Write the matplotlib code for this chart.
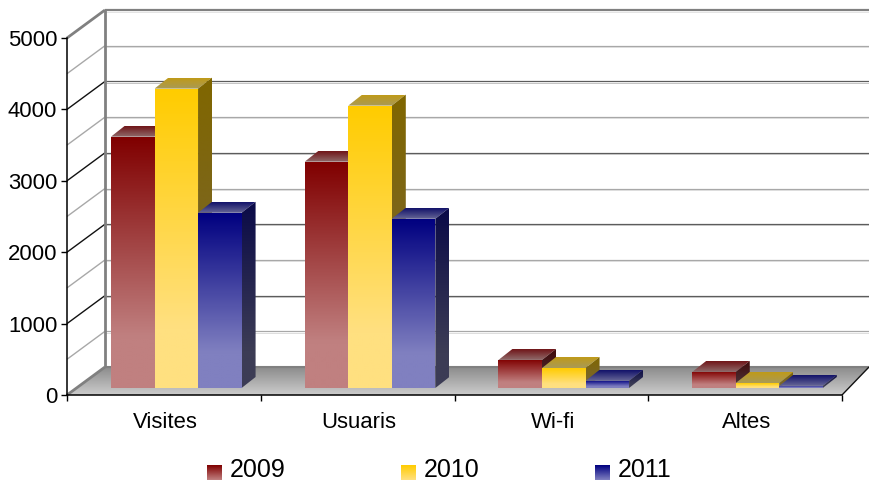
import numpy as np
import matplotlib
matplotlib.use('Agg')
import matplotlib.pyplot as plt
from matplotlib.patches import Polygon
from matplotlib.transforms import Affine2D, IdentityTransform

categories = ['Visites', 'Usuaris', 'Wi-fi', 'Altes']
years = ['2009', '2010', '2011']
values_2009 = [3520, 3170, 393, 225]
values_2010 = [4193, 3955, 280, 70]
values_2011 = [2454, 2370, 100, 30]
y_ticks = [0, 1000, 2000, 3000, 4000, 5000]
grid_steps = [500, 1000, 1500, 2000, 2500, 3000, 3500, 4000, 4500, 5000]

W, H = 869, 483
plt.rcParams['font.family'] = ['Liberation Sans', 'DejaVu Sans']

# front colours: top of bar -> bottom of bar, then top face, then side face
styles = [
    {'front': ('#800000', '#c08080'), 'top': ('#701518', '#8f6a6a'), 'side': ('#400808', '#4a3035')},
    {'front': ('#ffcc00', '#ffe080'), 'top': ('#c09a18', '#a89a58'), 'side': ('#806600', '#7a6630')},
    {'front': ('#000080', '#8080c0'), 'top': ('#12126a', '#666696'), 'side': ('#0a0a48', '#3c3c55')},
]

fig = plt.figure(figsize=(W / 100, H / 100), dpi=100)
ax = fig.add_axes([67 / W, (H - 395) / H, 775 / W, 357 / H])
ax.patch.set_visible(False)
ax.set_xlim(0, 4)
ax.set_ylim(0, 5000)
fig.canvas.draw()

wall = ax.transData + Affine2D().translate(38, 28)
front = ax.transData + Affine2D().translate(12.4, 7)
back = ax.transData + Affine2D().translate(26.4, 18)


def to_rgb(c):
    return np.array(matplotlib.colors.to_rgb(c))


def gradient(points, c_top, c_bottom, zorder, flat=0.0):
    # fill a display-space polygon with a vertical gradient
    points = np.array(points)
    x0, x1 = points[:, 0].min(), points[:, 0].max()
    y0, y1 = points[:, 1].min(), points[:, 1].max()
    t = np.linspace(0, 1, 64)
    t = np.clip((t - flat) / (1 - flat), 0, 1)[:, None, None]
    img = to_rgb(c_bottom) * (1 - t) + to_rgb(c_top) * t
    im = ax.imshow(img, extent=(x0, x1, y0, y1), origin='lower', aspect='auto',
                   transform=IdentityTransform(), zorder=zorder, interpolation='bilinear')
    im.set_clip_box(fig.bbox)
    im.set_clip_path(Polygon(points, transform=IdentityTransform()))


def line(p, q, color, lw, zorder=1):
    ax.plot([p[0], q[0]], [p[1], q[1]], color=color, lw=lw, transform=IdentityTransform(),
            clip_on=False, zorder=zorder, solid_capstyle='butt')


# floor
wall_end = wall.transform((4, 0))[0] - 11
floor = [wall.transform((0, 0)), (wall_end, wall.transform((0, 0))[1]),
         ax.transData.transform((4, 0)), ax.transData.transform((0, 0))]
gradient(floor, '#8c8c8c', '#cccccc', 1)

# walls and grid
for v in grid_steps:
    a = ax.transData.transform((0, v))
    b = wall.transform((0, v))
    c = np.array([wall_end, b[1]])
    major = v % 1000 == 0 and v != 5000
    if v == 5000:
        line(a, b, '#808080', 2.0)
        line(b, c, '#808080', 1.6)
        line(b - [0, 1.5], c - [0, 1.5], '#e4e4e4', 0.7)
    else:
        line(a, b, '#111111' if major else '#a8a8a8', 1.0)
        line(b, c, '#5c5c5c' if major else '#a8a8a8', 0.9)
        line(b - [0, 1.2], c - [0, 1.2], '#c4c4c4' if major else '#dddddd', 0.7)
b0 = wall.transform((0, 0))
line(b0, wall.transform((0, 5000)), '#808080', 2.0, 2)
line(ax.transData.transform((0, 0)), b0, '#808080', 2.0, 2)
line(b0, (wall_end, b0[1]), '#808080', 1.5, 2)
line(ax.transData.transform((4, 0)), (wall_end, b0[1]), '#111111', 1.0, 2)

# bars
width = 0.2247
for j, vals in enumerate([values_2009, values_2010, values_2011]):
    st = styles[j]
    x = np.arange(len(categories)) + 0.5 + (j - 1) * width
    bars = ax.bar(x, vals, width, color=st['front'][0], transform=front, zorder=3 + j, clip_on=False)
    for rect in bars:
        xl, xr, top = rect.get_x(), rect.get_x() + rect.get_width(), rect.get_height()
        fl, fr = front.transform((xl, 0)), front.transform((xr, 0))
        tl, tr = front.transform((xl, top)), front.transform((xr, top))
        bl_b, br_b = back.transform((xl, top)), back.transform((xr, top))
        low_b = back.transform((xr, 0))
        gradient([tl, tr, br_b, bl_b], st['top'][0], st['top'][1], 3.1 + j)
        gradient([fr, low_b, br_b, tr], st['side'][0], st['side'][1], 3.1 + j, flat=0.2)
        gradient([fl, fr, tr, tl], st['front'][0], st['front'][1], 3.2 + j, flat=0.2)

# axes
for s in ['top', 'right']:
    ax.spines[s].set_visible(False)
for s in ['left', 'bottom']:
    ax.spines[s].set_linewidth(1.1)
    ax.spines[s].set_zorder(8)
ax.set_yticks(y_ticks)
ax.set_yticklabels([str(v) for v in y_ticks], fontsize=15.9)
ax.tick_params(axis='y', length=4.5, width=1, pad=2.5)
ax.set_xticks(range(5))
ax.set_xticklabels([])
ax.tick_params(axis='x', which='major', length=4.5, width=1)
ax.set_xticks(np.arange(len(categories)) + 0.5, minor=True)
ax.set_xticklabels(categories, minor=True, fontsize=15.9)
ax.tick_params(axis='x', which='minor', length=0, pad=12)
for lab in ax.get_xticklabels(minor=True):
    lab.set_transform(lab.get_transform() + Affine2D().translate(1.5, 0))

# legend
for j, (year, left) in enumerate(zip(years, [207, 401, 595])):
    sq = [(left, H - 480), (left + 15, H - 480), (left + 15, H - 465), (left, H - 465)]
    gradient(sq, styles[j]['front'][0], styles[j]['front'][1], 9)
    fig.text((left + 23) / W, (H - 470) / H, year, fontsize=18, ha='left', va='center')

fig.savefig('out.png', dpi=100)
